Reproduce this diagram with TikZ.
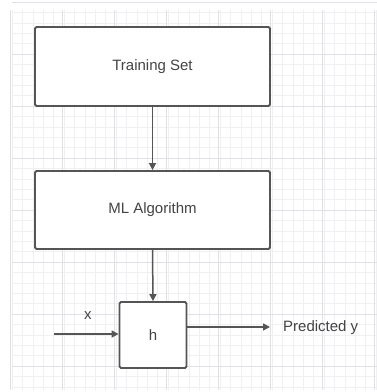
\documentclass[tikz,border=0pt]{standalone}
\usepackage{fontspec}
\setmainfont{Liberation Sans}
\usetikzlibrary{arrows.meta}
\definecolor{gridminor}{HTML}{F0F0F3}
\definecolor{gridmajor}{HTML}{E0E0E6}
\definecolor{edge}{HTML}{555555}
\definecolor{txt}{HTML}{444444}
\tikzset{
  block/.style={draw=edge, line width=1.8pt, fill=white, rounded corners=1.5pt,
    inner sep=0pt, font=\fontsize{15}{18}\selectfont, text=txt},
  flow/.style={draw=edge, line width=1.5pt, -{Triangle[length=7pt,width=7pt]}},
  lbl/.style={font=\fontsize{15}{18}\selectfont, text=txt, inner sep=0pt}
}
\begin{document}
\begin{tikzpicture}[x=1pt, y=-1pt]
  \useasboundingbox (0,0) rectangle (377,392);
  \fill[white] (0,0) rectangle (377,392);
  % background grid
  \foreach \i in {0,...,35} {
    \draw[gridminor, line width=0.6pt] ({12+10.4*\i},10) -- ({12+10.4*\i},390);
  }
  \foreach \j in {0,...,36} {
    \draw[gridminor, line width=0.6pt] (12,{12.4+10.4*\j}) -- (377,{12.4+10.4*\j});
  }
  \foreach \i in {0,...,7} {
    \draw[gridmajor, line width=0.8pt] ({10+52*\i},10) -- ({10+52*\i},390);
  }
  \foreach \j in {0,...,7} {
    \draw[gridmajor, line width=0.8pt] (12,{2+52*\j}) -- (377,{2+52*\j});
  }
  % blocks
  \node[block, minimum width=235pt, minimum height=79pt] (train) at (152.5,66.5) {Training Set};
  \node[block, minimum width=235pt, minimum height=78pt] (algo) at (152.5,210) {ML Algorithm};
  \node[block, minimum width=67pt, minimum height=66pt] (h) at (153,335) {h};
  % inputs and outputs
  \coordinate (xin) at (54,334);
  \coordinate (yout) at (270,327);
  \node[lbl, anchor=west] (pred) at (283,328) {Predicted y};
  \node[lbl] (xlab) at (88,316) {x};
  % connectors
  \draw[flow] (train.south) -- (algo.north);
  \draw[flow] (algo.south) -- (h.north);
  \draw[flow] (xin) -- (xin -| h.west);
  \draw[flow] (yout -| h.east) -- (yout);
\end{tikzpicture}
\end{document}
